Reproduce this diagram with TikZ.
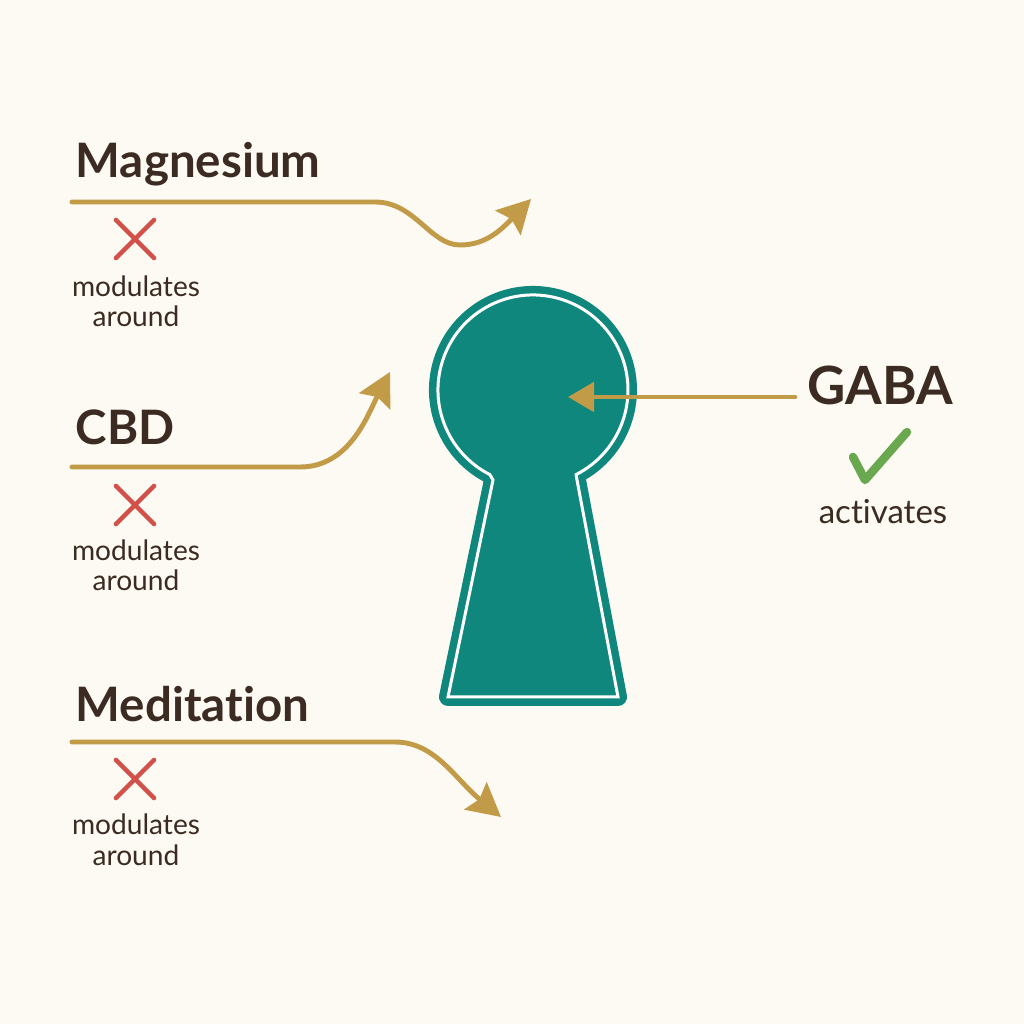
\documentclass[tikz,border=0pt]{standalone}
\usepackage{fontspec}
\setmainfont{Lato}[Ligatures=NoCommon]
\usepackage{xcolor}
\usetikzlibrary{arrows.meta,positioning}

\definecolor{paper}{HTML}{FCFAF2}
\definecolor{ink}{HTML}{3B2B22}
\definecolor{gold}{HTML}{C29B48}
\definecolor{lockteal}{HTML}{10877C}
\definecolor{crossred}{HTML}{D1514A}
\definecolor{checkgreen}{HTML}{6AA84F}

% outline of the keyhole (centre line of the white rim)
\newcommand{\keyholeoutline}{(4.93,5.44) -- (4.48,3.27) -- (6.18,3.27) -- (5.77,5.44)
  -- (5.761,5.494) arc[start angle=-63, end angle=243, radius=0.95] -- cycle}

\begin{document}
\begin{tikzpicture}[
    title/.style={font=\fontsize{13.5}{16}\selectfont\bfseries, text=ink, inner sep=0pt, anchor=base west},
    caption/.style={font=\fontsize{8}{8.6}\selectfont, text=ink, align=center, inner sep=0pt, anchor=base},
    flow/.style={-{Stealth[length=3.3mm, width=3.5mm, inset=0.5mm]}, line width=1.4pt, color=gold, line cap=round},
    nomark/.style={line width=1.3pt, color=crossred, line cap=round},
    yesmark/.style={line width=2.4pt, color=checkgreen, line cap=round, line join=round}
]

%% Canvas
\fill[paper] (0,0) rectangle (10.24,10.24);
\useasboundingbox (0,0) rectangle (10.24,10.24);

%% Keyhole
\path[fill=lockteal, draw=lockteal, line width=0.18cm, line join=round] \keyholeoutline;
\draw[white, line width=0.03cm] \keyholeoutline;
\coordinate (lock) at (5.33,6.34);

%% Magnesium
\node[title] (mg) at (0.75,8.46) {Magnesium};
\coordinate (mg-start) at (0.72,8.22);
\coordinate (mg-tip) at (5.31,8.25);
\draw[flow] (mg-start) -- (3.75,8.22) .. controls (4.15,8.22) and (4.30,7.79) .. (4.60,7.79)
    .. controls (4.85,7.79) and (5.00,7.93) .. (mg-tip);
\coordinate (mg-x) at (1.35,7.85);
\draw[nomark] (mg-x) ++(-0.19,-0.19) -- ++(0.38,0.38) ++(-0.38,0) -- ++(0.38,-0.38);
\node[caption] (mg-note) at (1.36,6.97) {modulates\\around};

%% CBD
\node[title] (cbd) at (0.75,5.79) {CBD};
\coordinate (cbd-start) at (0.72,5.57);
\coordinate (cbd-tip) at (3.90,6.52);
\draw[flow] (cbd-start) -- (3.00,5.57) .. controls (3.50,5.57) and (3.68,6.10) .. (cbd-tip);
\coordinate (cbd-x) at (1.35,5.19);
\draw[nomark] (cbd-x) ++(-0.19,-0.19) -- ++(0.38,0.38) ++(-0.38,0) -- ++(0.38,-0.38);
\node[caption] (cbd-note) at (1.36,4.33) {modulates\\around};

%% Meditation
\node[title] (med) at (0.75,3.02) {Meditation};
\coordinate (med-start) at (0.72,2.82);
\coordinate (med-tip) at (5.01,2.07);
\draw[flow] (med-start) -- (3.95,2.82) .. controls (4.35,2.82) and (4.55,2.45) .. (med-tip);
\coordinate (med-x) at (1.35,2.45);
\draw[nomark] (med-x) ++(-0.19,-0.19) -- ++(0.38,0.38) ++(-0.38,0) -- ++(0.38,-0.38);
\node[caption] (med-note) at (1.36,1.59) {modulates\\around};

%% GABA
\node[title, font=\fontsize{15}{17}\selectfont\bfseries] (gaba) at (8.07,6.19) {GABA};
\coordinate (gaba-tip) at (5.68,6.27);
\draw[flow, -{Triangle[length=2.6mm, width=2.9mm]}] ([xshift=-1.2mm]gaba.west |- gaba-tip) -- (gaba-tip);
\draw[yesmark] (8.53,5.67) -- (8.65,5.44) -- (9.07,5.92);
\node[caption, font=\fontsize{9.4}{10}\selectfont] (gaba-note) at (8.83,5.00) {activates};

\end{tikzpicture}
\end{document}
